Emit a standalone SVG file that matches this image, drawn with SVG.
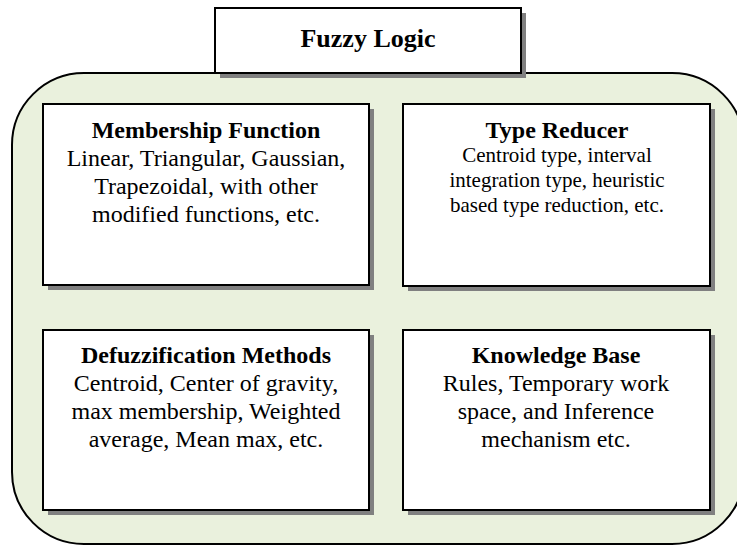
<svg xmlns="http://www.w3.org/2000/svg" width="737" height="546" viewBox="0 0 737 546">
  <style>
    .box { fill: #ffffff; stroke: #000000; stroke-width: 2; }
    .shadow { fill: #808080; }
    .outer { fill: #EAF1DD; stroke: #000000; stroke-width: 2; }
    text { font-family: "Liberation Serif", "Times New Roman", serif; fill: #000000; text-anchor: middle; }
    .title { font-size: 26px; font-weight: bold; }
    .head { font-size: 24px; font-weight: bold; }
    .body { font-size: 24px; }
    .small { font-size: 21px; }
  </style>
  <rect id="container" class="outer" x="12" y="73" width="732" height="471" rx="72" ry="72"/>
  <g id="connectors"></g>
  <g id="fuzzy-logic">
    <rect class="shadow" x="220" y="13" width="306" height="65"/>
    <rect class="box" x="215" y="8" width="306" height="65"/>
    <text class="title" x="368" y="47">Fuzzy Logic</text>
  </g>
  <g id="membership-function">
    <rect class="shadow" x="48" y="109" width="326" height="181"/>
    <rect class="box" x="43" y="104" width="326" height="181"/>
    <text class="head" x="206" y="138">Membership Function</text>
    <text class="body" x="206" y="166">Linear, Triangular, Gaussian,</text>
    <text class="body" x="206" y="194">Trapezoidal, with other</text>
    <text class="body" x="206" y="222">modified functions, etc.</text>
  </g>
  <g id="type-reducer">
    <rect class="shadow" x="408" y="109" width="307" height="182"/>
    <rect class="box" x="403" y="104" width="307" height="182"/>
    <text class="head" x="557" y="138">Type Reducer</text>
    <text class="small" x="557" y="162">Centroid type, interval</text>
    <text class="small" x="557" y="187">integration type, heuristic</text>
    <text class="small" x="557" y="212">based type reduction, etc.</text>
  </g>
  <g id="defuzzification-methods">
    <rect class="shadow" x="48" y="335" width="326" height="180"/>
    <rect class="box" x="43" y="330" width="326" height="180"/>
    <text class="head" x="206" y="363">Defuzzification Methods</text>
    <text class="body" x="206" y="391">Centroid, Center of gravity,</text>
    <text class="body" x="206" y="419">max membership, Weighted</text>
    <text class="body" x="206" y="447">average, Mean max, etc.</text>
  </g>
  <g id="knowledge-base">
    <rect class="shadow" x="408" y="335" width="307" height="180"/>
    <rect class="box" x="403" y="330" width="307" height="180"/>
    <text class="head" x="556" y="363">Knowledge Base</text>
    <text class="body" x="556" y="391">Rules, Temporary work</text>
    <text class="body" x="556" y="419">space, and Inference</text>
    <text class="body" x="556" y="447">mechanism etc.</text>
  </g>
</svg>
